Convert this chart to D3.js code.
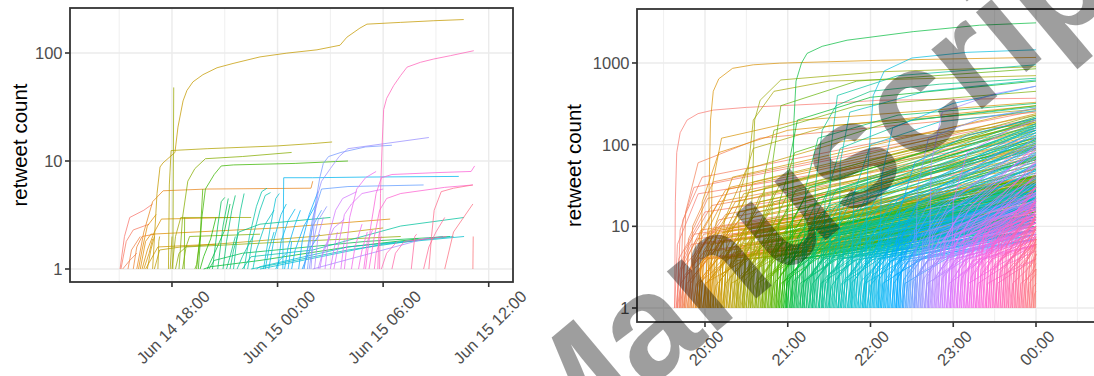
<!DOCTYPE html>
<html lang="en">
<head>
<meta charset="UTF-8">
<title>Retweet cascades</title>
<script src="https://d3js.org/d3.v7.min.js"></script>
<style>
  body { margin: 0; background: #fff; }
  svg { display: block; font-family: "Liberation Sans", Arial, sans-serif; }
  .tick-label { fill: #4d4d4d; font-size: 16.5px; }
  .axis-title { fill: #000; font-size: 20.5px; }
</style>
</head>
<body>
<svg id="chart" width="1094" height="376"></svg>
<script>
// ---- data ----
// left panel: hours after Jun 14 00:00, retweet count
const leftTicks = [18, 24, 30, 36];
const leftMinorTicks = [15, 21, 27, 33];
const leftYTicks = [1, 10, 100];
const leftCascades = [
  [15.05,1, 15.3,2, 15.6,3, 16.4,3.5, 16.9,4],
  [15.1,1, 15.4,1.8, 15.8,2.3, 16.7,2.6],
  [15.2,1, 15.6,1.2, 16.0,1.4],
  [15.5,1, 15.7,1.5, 16.2,2.0],
  [15.8,1, 16.0,1.6, 16.3,2.0, 17,2.1],
  [16.0,1, 16.4,2.2, 16.9,4.2, 17.5,5.3, 20.0,5.5, 25.9,5.6, 26.0,6.5],
  [16.1,1, 16.3,1.5, 16.6,2.5, 17.1,3.2],
  [16.2,1, 16.5,1.8, 16.8,2.1, 24,2.4, 30.4,2.9],
  [16.3,1, 16.6,1.5, 17.0,2.2, 17.4,2.9, 21.5,3.0],
  [16.4,1, 16.7,1.4, 16.9,1.9],
  [16.5,1, 17.2,1.6, 20.5,1.7],
  [16.6,1, 16.8,1.5, 17.0,2.0],
  [16.9,1, 17.15,5, 17.32,8.8, 17.49,9.6, 18.17,12, 18.34,20.6, 18.63,36, 18.85,45, 19.19,54, 19.76,63, 20.56,73, 21.47,80, 23.0,92, 24.53,99.7, 26.24,107, 27.55,118, 27.94,140, 28.68,170, 29.08,185, 30.98,192, 32.88,199, 34.58,204],
  [17.0,1, 17.3,1.5, 18.5,1.6, 26,2.0, 30.0,2.4],
  [17.2,1, 17.25,1.8, 17.3,2],
  [17.8,1, 17.85,6, 17.95,12.5, 20,13, 24,13.8, 26,14.5, 27.1,15],
  [17.9,1, 18.0,2],
  [18.0,1, 18.2,2, 18.5,3, 22.5,3.0],
  [18.05,1, 18.1,48],
  [18.2,1, 18.4,1.4, 18.8,1.6, 25,1.8, 31,2.0],
  [18.4,1, 18.6,3, 18.9,6.5, 19.3,8.5, 19.9,10.5, 22,11, 24.8,12],
  [18.6,1, 18.8,1.6, 19.0,2.0, 23,2.1],
  [18.7,1, 18.72,3],
  [19.3,1, 19.4,1.1, 19.6,2.0],
  [19.4,1, 19.6,2, 19.75,5.5],
  [19.5,1, 19.7,3, 19.9,5.5, 20.4,7.5, 20.8,9, 21.5,9.2, 25,9.5, 28.0,10],
  [19.6,1, 19.8,1.3, 20.2,1.9, 20.5,3],
  [19.8,1, 20.2,1.05, 23,1.2, 28,1.6, 32,1.9],
  [20.0,1, 20.5,1.5, 21.0,2.3, 21.3,4],
  [20.1,1, 20.4,1.2, 22,1.4, 29,1.8, 33.8,2.0],
  [20.3,1, 20.6,2.5, 20.8,4.2, 21.0,4.6],
  [20.6,1, 20.9,2.5, 21.2,4.5],
  [20.9,1, 21.1,1.8, 21.4,3.5, 21.6,4.8],
  [21.1,1, 21.3,1.3, 21.6,2.0],
  [21.3,1, 21.5,1.5, 21.8,2.2, 23,2.6, 27,3.0],
  [21.5,1, 21.7,2, 21.9,3.5, 22.1,5],
  [21.7,1, 22.0,1.3, 22.6,2.0],
  [22.0,1, 22.5,1.3, 26,1.5, 31,2.5, 34.6,3.0],
  [22.1,1, 22.4,2, 22.8,3.8, 23.1,5.2, 23.4,5.6],
  [22.3,1, 22.6,2.0, 23.0,3.5, 23.3,4.8, 23.6,5.1],
  [22.5,1, 28,1.5, 33.4,2],
  [22.6,1, 22.8,1.5, 23.3,2.6, 23.8,3.5],
  [22.8,1, 23.0,1.05, 28,1.6, 34.0,2.0],
  [23.0,1, 30,1.7, 34.6,2.0],
  [23.2,1, 23.6,2.5, 23.9,4.5, 24.1,5],
  [23.3,1, 23.5,1.5, 23.8,2.2],
  [23.5,1, 23.8,1.9, 24.2,3.2, 24.5,4],
  [23.9,1, 24.1,1.2, 24.5,1.4],
  [24.0,1, 24.2,1.8, 24.6,2.8, 25.0,3.6],
  [24.3,1, 24.35,7, 26,7, 29,7.1, 34.3,7.2],
  [24.4,1, 24.6,1.6, 25.0,2.6, 25.3,3.5],
  [24.6,1, 24.8,1.8],
  [24.8,1, 25.0,1.5, 25.5,2.5, 26.2,4],
  [25.2,1, 25.4,1.8, 25.8,3.2, 26.3,5.2],
  [25.4,1, 25.9,1.6, 26.4,2.1],
  [25.5,1, 25.7,1.5, 26,2.5, 26.5,3.5],
  [25.5,1, 26.0,3, 26.5,5.5, 28,5.8, 32.3,6],
  [25.7,1, 25.9,2, 26.2,4.5, 26.4,7, 26.6,9.5, 26.9,11, 27.6,12, 29,13.5, 30.5,14],
  [25.8,1, 26.0,1.7, 26.3,2.8, 26.8,3.8],
  [25.9,1, 26.1,3, 26.3,5, 26.5,6.5, 27.0,8.5, 27.5,11, 28,13, 32.6,16.5],
  [26.0,1, 30,1.5, 32.6,1.95],
  [26.1,1, 26.3,2, 26.6,3],
  [26.3,1, 26.5,1.3, 27.0,2],
  [26.4,1, 26.6,1.5, 27.2,2.4, 27.8,2.9],
  [26.7,1, 26.9,2, 27.3,3.5, 27.7,4.5, 28.5,5.2],
  [27.0,1, 27.2,1.5, 27.4,2.2],
  [27.2,1, 27.5,1.8, 27.8,3.2, 28.2,4, 28.8,5, 30,5.5],
  [27.6,1, 27.8,1.9],
  [27.8,1, 28.1,3, 28.5,5.5, 29,7, 29.6,8],
  [28.2,1, 28.4,1.6, 28.8,2.6],
  [28.6,1, 28.8,1.5, 29.1,2.2],
  [28.9,1, 29.1,1.8, 29.4,2.3],
  [29.0,1, 29.3,2.5, 29.6,5, 29.9,7, 30.5,7.5, 33,7.8, 35.0,8, 35.2,9],
  [29.2,1, 29.5,2, 29.8,3.5, 30.2,4.5, 31,5, 33.5,5.7, 35.1,6],
  [29.5,1, 29.6,1.4, 29.9,2],
  [29.7,1, 29.75,2, 29.8,2.2],
  [29.8,1, 29.85,5, 29.95,15, 30.03,30, 30.2,38, 30.6,50, 31.0,62, 31.36,74, 32.12,82, 32.88,88, 33.83,94.5, 35.15,105],
  [29.9,1, 30.2,1.4, 30.8,1.8],
  [30.5,1, 30.7,1.4, 31.2,1.8, 33.6,2.0],
  [31.6,1, 31.8,2, 31.9,2.1],
  [32.3,1, 32.6,1.6, 33.0,2.2, 33.5,3.0],
  [32.6,1, 32.75,2, 32.9,3.5, 33.3,5.2, 34,5.6, 35.1,6],
  [33.5,1, 34,2.2, 35.1,4],
  [35.1,1, 35.12,2]
];

// right panel: minutes after 19:00, retweet count
const rightTicks = [60, 120, 180, 240, 300];
const rightMinorTicks = [30, 90, 150, 210, 270, 330];
const rightYTicks = [1, 10, 100, 1000];
// larger cascades
const rightCascades = [
  [38,1, 38.5,20, 39.5,80, 42,140, 47,200, 55,240, 66,265, 90,286, 150,320, 187,350, 300,370],
  [38,1, 40,6, 55,25, 300,120],
  [39.5,1, 41,4, 60,15, 300,60],
  [40,1, 42,9, 52,30, 300,210],
  [41.5,1, 43,3, 70,10, 300,45],
  [42,1, 44,12, 58,40, 300,260],
  [43.5,1, 45,5, 65,18, 300,90],
  [44,1, 46,15, 55,60, 100,120, 300,250],
  [45,1, 46.5,2.5, 80,8, 300,30],
  [46,1, 48,7, 62,22, 300,150],
  [47.5,1, 49,3, 70,12, 300,70],
  [49,1, 51,10, 66,35, 300,230],
  [50,1, 51.5,4, 75,14, 300,80],
  [51.5,1, 53,6, 70,20, 300,110],
  [53,1, 55,2, 90,6, 300,25],
  [54,1, 56,8, 75,28, 300,180],
  [55.5,1, 57,3.5, 85,12, 300,55],
  [56,1, 58,20, 70,80, 120,150, 300,300],
  [57,1, 59,5, 80,17, 300,100],
  [58.5,1, 60,2, 100,5, 300,18],
  [60,1, 62,9, 78,30, 300,200],
  [61.5,1, 63,4, 85,15, 300,85],
  [62.5,1, 63,30, 64,200, 66,450, 70,640, 80,860, 95,950, 114,995, 187,1080, 300,1170],
  [63.5,1, 65,6, 82,20, 300,130],
  [64,1, 65,30, 72,120, 130,200, 300,330],
  [65,1, 66.5,3, 95,10, 300,50],
  [66,1, 68,11, 80,40, 300,280],
  [67.5,1, 69,5, 90,16, 300,95],
  [69,1, 71,2.5, 110,7, 300,28],
  [70,1, 72,7, 88,25, 300,170],
  [71.5,1, 73,4, 95,13, 300,75],
  [72,1, 74,12, 90,50, 160,110, 300,180],
  [73,1, 75,3, 100,9, 300,40],
  [74,1, 76,8, 92,26, 300,190],
  [75.5,1, 77,5, 98,15, 300,90],
  [77,1, 79,2, 120,5, 300,16],
  [78,1, 80,10, 95,35, 300,240],
  [79.5,1, 81,4, 105,12, 300,65],
  [81,1, 83,6, 100,20, 300,120],
  [82.5,1, 84,3, 115,9, 300,38],
  [83,1, 85,25, 95,90, 150,170, 300,270],
  [84,1, 86,7, 100,24, 300,160],
  [85.5,1, 87,2.5, 120,7, 300,26],
  [87,1, 89,5, 108,16, 300,100],
  [88,1, 90,30, 95,200, 110,450, 150,600, 300,700],
  [88.5,1, 90,9, 104,30, 300,210],
  [90,1, 92,4, 115,12, 300,70],
  [91.5,1, 93,6, 110,20, 300,140],
  [93,1, 94,20, 96,200, 100,350, 115,620, 187,780, 300,900],
  [93,1, 95,3, 125,8, 300,35],
  [94.5,1, 96,8, 110,26, 300,190],
  [96,1, 98,2, 135,5, 300,18],
  [97,1, 99,5, 120,15, 300,95],
  [98.5,1, 100,10, 114,32, 300,230],
  [100,1, 102,3.5, 130,10, 300,50],
  [101.5,1, 103,6, 122,18, 300,120],
  [102,1, 103,40, 110,150, 170,300, 300,450],
  [103,1, 105,2.5, 140,6, 300,24],
  [104,1, 106,8, 120,25, 300,170],
  [105.5,1, 107,4, 130,12, 300,65],
  [107,1, 109,5, 128,16, 300,105],
  [108,1, 109,60, 115,300, 170,600, 300,850],
  [108.5,1, 110,3, 140,8, 300,36],
  [110,1, 112,9, 126,28, 300,200],
  [111.5,1, 113,4, 138,12, 300,72],
  [112,1, 114,20, 125,80, 190,180, 300,300],
  [113,1, 115,2, 150,5, 300,15],
  [114,1, 116,7, 132,22, 300,150],
  [115.5,1, 117,3, 145,9, 300,42],
  [117,1, 119,6, 136,18, 300,115],
  [118.5,1, 120,2.5, 155,7, 300,22],
  [119,1, 120,50, 127,200, 180,380, 300,600],
  [120,1, 122,10, 136,30, 300,220],
  [121.5,1, 123,4, 148,12, 300,68],
  [123,1, 123.5,20, 124.5,200, 126,600, 130,1000, 134,1310, 145,1600, 163,1900, 211,2420, 259,2900, 300,3100],
  [123,1, 125,5, 145,15, 300,90],
  [124.5,1, 126,3, 155,8, 300,34],
  [126,1, 128,7, 142,22, 300,160],
  [127.5,1, 129,2, 165,5, 300,14],
  [129,1, 131,6, 150,18, 300,110],
  [130.5,1, 132,3.5, 160,10, 300,52],
  [131,1, 133,30, 142,120, 200,230, 300,320],
  [132,1, 134,8, 148,25, 300,180],
  [133.5,1, 135,4, 160,12, 300,66],
  [135,1, 137,2.5, 170,6, 300,25],
  [136,1, 138,6, 155,18, 300,125],
  [137.5,1, 139,3, 165,9, 300,40],
  [138,1, 140,30, 145,150, 155,300, 180,450, 230,550, 300,650],
  [139,1, 141,9, 155,28, 300,210],
  [140.5,1, 142,4, 168,12, 300,70],
  [142,1, 144,2, 180,5, 300,16],
  [143,1, 145,7, 160,22, 300,150],
  [144.5,1, 146,3.5, 172,10, 300,48],
  [145,1, 147,20, 158,90, 210,200, 300,290],
  [146,1, 148,5, 168,15, 300,95],
  [147.5,1, 149,2.5, 182,6, 300,22],
  [149,1, 151,8, 165,25, 300,170],
  [150,1, 151,80, 156,400, 200,700, 300,950],
  [150.5,1, 152,4, 178,12, 300,62],
  [152,1, 154,6, 172,18, 300,115],
  [153.5,1, 155,3, 185,8, 300,33],
  [155,1, 157,10, 170,30, 300,200],
  [156.5,1, 158,4, 182,11, 300,58],
  [157,1, 158,60, 165,250, 220,450, 300,620],
  [158,1, 160,2, 195,5, 300,13],
  [159,1, 161,7, 176,21, 300,140],
  [160.5,1, 162,3, 190,9, 300,38],
  [162,1, 164,5, 182,15, 300,88],
  [163.5,1, 165,2.5, 198,6, 300,20],
  [165,1, 167,8, 180,24, 300,160],
  [166,1, 168,25, 180,100, 230,190, 300,260],
  [166.5,1, 168,4, 192,11, 300,56],
  [168,1, 170,6, 186,17, 300,105],
  [169.5,1, 171,3, 200,8, 300,30],
  [171,1, 173,9, 186,26, 300,180],
  [172.5,1, 174,3.5, 198,10, 300,45],
  [174,1, 176,2, 210,4.5, 300,12],
  [175,1, 177,6, 194,17, 300,100],
  [176,1, 178,50, 182,400, 190,800, 210,1150, 250,1350, 300,1450],
  [176.5,1, 178,4, 202,11, 300,55],
  [178,1, 180,7, 195,20, 300,130],
  [179.5,1, 181,2.5, 212,6, 300,19],
  [181,1, 183,5, 200,14, 300,80],
  [182.5,1, 184,3, 210,8, 300,32],
  [184,1, 186,8, 200,22, 300,150],
  [185.5,1, 187,4, 210,10, 300,48],
  [186,1, 188,40, 196,160, 240,320, 300,520],
  [187,1, 189,2, 222,4.5, 300,11],
  [188,1, 190,6, 206,16, 300,95],
  [189.5,1, 191,3, 215,8, 300,30],
  [191,1, 193,9, 206,25, 300,170],
  [192.5,1, 194,4, 218,10, 300,50],
  [194,1, 196,5, 212,14, 300,75],
  [195.5,1, 197,2.5, 228,5, 300,15],
  [197,1, 199,7, 214,19, 300,120],
  [198.5,1, 200,3, 224,8, 300,28],
  [199,1, 201,15, 212,60, 250,130, 300,210],
  [200,1, 202,4, 220,11, 300,58],
  [201.5,1, 203,8, 216,22, 300,140],
  [203,1, 205,2, 235,4, 300,9],
  [204,1, 206,5, 222,14, 300,78],
  [205.5,1, 207,3, 230,7, 300,26],
  [207,1, 209,6, 224,16, 300,95],
  [208.5,1, 210,3.5, 232,9, 300,38],
  [210,1, 212,9, 225,24, 300,160],
  [211.5,1, 213,2.5, 242,5, 300,13],
  [212,1, 214,30, 222,120, 260,210, 300,280],
  [213,1, 215,5, 230,13, 300,68],
  [214.5,1, 216,3, 238,7, 300,24],
  [216,1, 218,7, 232,18, 300,110],
  [217.5,1, 219,4, 240,9, 300,40],
  [219,1, 221,2, 250,4, 300,8],
  [220,1, 222,6, 236,15, 300,85],
  [221.5,1, 223,3, 245,7, 300,25],
  [222,1, 224,60, 232,250, 270,420, 300,520],
  [223,1, 225,8, 238,20, 300,125],
  [224.5,1, 226,4, 246,9, 300,36],
  [226,1, 228,5, 242,12, 300,60],
  [227.5,1, 229,2.5, 255,5, 300,11],
  [229,1, 231,6, 245,14, 300,75],
  [230.5,1, 232,3, 252,7, 300,22],
  [232,1, 234,7, 247,17, 300,95],
  [233.5,1, 235,4, 255,9, 300,34],
  [235,1, 237,2, 262,4, 300,7],
  [236,1, 238,5, 252,12, 300,55],
  [237.5,1, 239,3, 258,7, 300,20],
  [238,1, 240,20, 250,80, 280,150, 300,200],
  [239,1, 241,8, 253,18, 300,100],
  [240.5,1, 242,4, 260,9, 300,30],
  [242,1, 244,2.5, 268,5, 300,10],
  [243,1, 245,6, 258,13, 300,60],
  [244.5,1, 246,3, 265,7, 300,18],
  [246,1, 248,9, 260,20, 300,90],
  [247.5,1, 249,4, 267,8, 300,26],
  [249,1, 251,2, 275,3.5, 300,6],
  [250,1, 252,5, 265,11, 300,42],
  [251.5,1, 253,3, 270,6, 300,15],
  [253,1, 255,7, 267,15, 300,65],
  [254.5,1, 256,3.5, 273,7, 300,20],
  [256,1, 258,2, 280,3.5, 300,5],
  [257,1, 259,6, 271,12, 300,45],
  [258.5,1, 260,3, 276,6, 300,13],
  [260,1, 262,8, 273,16, 300,55],
  [261.5,1, 263,4, 278,7, 300,17],
  [263,1, 265,2, 284,3, 300,4],
  [264,1, 266,5, 278,10, 300,30],
  [265.5,1, 267,3, 282,5, 300,10],
  [267,1, 269,6, 280,11, 300,32],
  [268.5,1, 270,3.5, 285,6, 300,12],
  [270,1, 272,2, 288,3, 300,4],
  [271,1, 273,7, 284,12, 300,30],
  [272.5,1, 274,3, 288,5, 300,9],
  [274,1, 276,5, 286,9, 300,20],
  [275.5,1, 277,2.5, 290,4, 300,6],
  [277,1, 279,6, 289,10, 300,22],
  [278.5,1, 280,3, 292,5, 300,8],
  [280,1, 282,4, 291,7, 300,13],
  [281.5,1, 283,2, 294,3, 300,4],
  [283,1, 285,5, 293,8, 300,14],
  [284.5,1, 286,3, 295,4.5, 300,7],
  [286,1, 288,4, 295,6, 300,10],
  [287.5,1, 289,2, 296,2.5, 300,3],
  [289,1, 291,3.5, 297,5, 300,7],
  [290.5,1, 292,2, 298,3, 300,3.5],
  [292,1, 293.5,3, 298,4, 300,5],
  [293.5,1, 295,2, 299,2.5, 300,2.6],
  [295,1, 296.5,2.5, 300,3],
  [296.5,1, 298,1.8, 300,2],
  [298,1, 299,1.5, 300,1.6],
  [299.5,1, 299.8,7]
];
// the many small cascades that make up the dense band near the bottom
const rightBandCascades = [
  [39,1,42,3,50,6,300,22], [40,1,42.5,2,55,4,300,14], [41,1,44,4,52,8,300,35], [42,1,45,2.5,60,5,300,18],
  [43,1,45,3.5,54,7,300,28], [44,1,47,2,62,4,300,12], [45,1,48,4.5,57,9,300,40], [46,1,49,3,57,6,300,21],
  [47,1,49.5,2,62,4,300,15], [48,1,51,4,59,8,300,33], [49,1,52,2.5,67,5,300,19], [50,1,52,3.5,61,7,300,27],
  [51,1,54,2,69,4,300,11], [52,1,55,4.5,64,9,300,38], [53,1,56,3,64,6,300,23], [54,1,56.5,2,69,4,300,13],
  [55,1,58,4,66,8,300,36], [56,1,59,2.5,74,5,300,17], [57,1,59,3.5,68,7,300,29], [58,1,61,2,76,4,300,10],
  [59,1,62,4.5,71,9,300,41],
  [60,1,63,3.2,71,6.5,300,24], [61,1,63,2.2,76,4.2,300,13], [62,1,65,4.2,73,8.5,300,33], [63,1,66,2.4,81,4.8,300,17],
  [64,1,66,3.6,75,7.2,300,29], [65,1,68,1.9,83,3.8,300,11], [66,1,69,4.8,78,9.5,300,42], [67,1,70,2.8,78,5.5,300,20],
  [68,1,70.5,2.1,83,4.1,300,15], [69,1,72,3.9,80,7.8,300,31], [70,1,73,2.6,88,5.2,300,19], [71,1,73,3.3,82,6.8,300,26],
  [72,1,75,2.0,90,4.0,300,12], [73,1,76,4.4,85,8.8,300,37], [74,1,77,3.0,85,6.0,300,21], [75,1,77.5,2.3,90,4.4,300,14],
  [76,1,79,4.1,87,8.0,300,34], [77,1,80,2.5,95,5.0,300,18], [78,1,80,3.4,89,6.9,300,27], [79,1,82,2.1,97,4.1,300,11],
  [80,1,83,4.6,92,9.2,300,39], [81,1,84,2.9,92,5.8,300,22], [82,1,84.5,2.0,97,4.0,300,13], [83,1,86,4.0,94,7.9,300,32],
  [84,1,87,2.4,102,4.9,300,16], [85,1,87,3.7,96,7.3,300,29], [86,1,89,2.2,104,4.2,300,12], [87,1,90,4.7,99,9.1,300,41],
  [88,1,91,3.1,99,6.2,300,23], [89,1,91.5,2.1,104,4.0,300,14], [90,1,93,4.3,101,8.3,300,35], [91,1,94,2.6,109,5.1,300,18],
  [92,1,94,3.5,103,7.0,300,27], [93,1,96,1.9,111,3.9,300,11], [94,1,97,4.5,106,8.9,300,38], [95,1,98,2.8,106,5.6,300,21],
  [96,1,98.5,2.2,111,4.3,300,15], [97,1,100,3.8,108,7.6,300,30], [98,1,101,2.5,116,5.0,300,17], [99,1,101,3.4,110,6.7,300,26],
  [100,1,103,2.0,118,4.1,300,12], [101,1,104,4.6,113,9.0,300,40], [102,1,105,3.0,113,6.1,300,22], [103,1,105.5,2.1,118,4.2,300,13],
  [104,1,107,4.1,115,8.1,300,33], [105,1,108,2.4,123,4.8,300,17], [106,1,108,3.6,117,7.1,300,28], [107,1,110,2.0,125,3.9,300,11],
  [108,1,111,4.4,120,8.7,300,37], [109,1,112,2.9,120,5.7,300,21], [110,1,112.5,2.2,125,4.3,300,14], [111,1,114,4.0,122,7.9,300,31],
  [112,1,115,2.6,130,5.1,300,18], [113,1,115,3.3,124,6.6,300,26], [114,1,117,2.1,132,4.0,300,12], [115,1,118,4.7,127,9.3,300,41],
  [116,1,119,3.1,127,6.2,300,23], [117,1,119.5,2.0,132,4.1,300,13], [118,1,121,4.2,129,8.4,300,34], [119,1,122,2.5,137,5.0,300,17],
  [120,1,122,3.5,131,7.0,300,22], [121,1,124,2.1,139,4.0,300,10], [122,1,125,4.5,134,8.8,300,31], [123,1,126,2.9,134,5.8,300,17],
  [124,1,126.5,2.2,139,4.3,300,12], [125,1,128,3.9,136,7.8,300,26], [126,1,129,2.5,144,5.0,300,14], [127,1,129,3.4,138,6.8,300,21],
  [128,1,131,2.0,146,4.0,300,9], [129,1,132,4.6,141,9.0,300,32], [130,1,133,3.0,141,6.0,300,18], [131,1,133.5,2.1,146,4.2,300,11],
  [132,1,135,4.1,143,8.0,300,27], [133,1,136,2.4,151,4.8,300,14], [134,1,136,3.6,145,7.2,300,22], [135,1,138,2.0,153,3.9,300,9],
  [136,1,139,4.4,148,8.6,300,30], [137,1,140,2.8,148,5.6,300,17], [138,1,140.5,2.2,153,4.3,300,12], [139,1,142,3.8,150,7.6,300,25],
  [140,1,143,2.6,158,5.1,300,14], [141,1,143,3.3,152,6.6,300,21], [142,1,145,2.1,160,4.0,300,9], [143,1,146,4.7,155,9.2,300,33],
  [144,1,147,3.1,155,6.1,300,18], [145,1,147.5,2.0,160,4.1,300,11], [146,1,149,4.2,157,8.3,300,27], [147,1,150,2.5,165,5.0,300,14],
  [148,1,150,3.5,159,7.0,300,22], [149,1,152,1.9,167,3.8,300,9], [150,1,153,4.5,162,8.9,300,30], [151,1,154,2.9,162,5.8,300,17],
  [152,1,154.5,2.2,167,4.3,300,12], [153,1,156,3.9,164,7.8,300,25], [154,1,157,2.5,172,5.0,300,14], [155,1,157,3.4,166,6.8,300,21],
  [156,1,159,2.0,174,4.0,300,9], [157,1,160,4.6,169,9.0,300,32], [158,1,161,3.0,169,6.0,300,18], [159,1,161.5,2.1,174,4.2,300,11],
  [160,1,163,4.1,171,8.0,300,27], [161,1,164,2.4,179,4.8,300,14], [162,1,164,3.6,173,7.2,300,22], [163,1,166,2.0,181,3.9,300,9],
  [164,1,167,4.4,176,8.6,300,30], [165,1,168,2.8,176,5.6,300,17], [166,1,168.5,2.2,181,4.3,300,12], [167,1,170,3.8,178,7.6,300,25],
  [168,1,171,2.6,186,5.1,300,14], [169,1,171,3.3,180,6.6,300,21], [170,1,173,2.1,188,4.0,300,9], [171,1,174,4.7,183,9.2,300,33],
  [172,1,175,3.1,183,6.1,300,18], [173,1,175.5,2.0,188,4.1,300,11], [174,1,177,4.2,185,8.3,300,27], [175,1,178,2.5,193,5.0,300,14],
  [176,1,178,3.5,187,7.0,300,22], [177,1,180,1.9,195,3.8,300,9], [178,1,181,4.5,190,8.9,300,30], [179,1,182,2.9,190,5.8,300,17],
  [180,1,182,3.5,188,6,300,16], [181,1,183,2.5,192,4.5,300,10], [182,1,184,4.5,190,8,300,22], [183,1,185,3,193,5.5,300,13],
  [184,1,186,2.2,196,4,300,8], [185,1,187,4,193,7,300,19], [186,1,188,2.8,197,5,300,12], [187,1,189,3.6,195,6.5,300,17],
  [188,1,190,2.1,200,3.8,300,7], [189,1,191,4.8,197,8.5,300,24], [190,1,192,3.2,200,5.8,300,14], [191,1,193,2.3,203,4.2,300,9],
  [192,1,194,4.2,200,7.5,300,20], [193,1,195,2.6,204,4.8,300,11], [194,1,196,3.7,202,6.6,300,18], [195,1,197,2.0,207,3.7,300,7],
  [196,1,198,4.6,204,8.2,300,23], [197,1,199,3.0,207,5.4,300,13], [198,1,200,2.4,210,4.3,300,9], [199,1,201,4.1,207,7.3,300,19],
  [200,1,202,2.7,211,4.9,300,11], [201,1,203,3.5,209,6.3,300,16], [202,1,204,2.2,214,3.9,300,8], [203,1,205,5.0,211,8.8,300,25],
  [204,1,206,3.3,214,5.9,300,14], [205,1,207,2.3,217,4.1,300,9], [206,1,208,4.3,214,7.6,300,20], [207,1,209,2.8,218,5.0,300,12],
  [208,1,210,3.8,216,6.8,300,18], [209,1,211,2.1,221,3.8,300,7], [210,1,212,4.7,218,8.4,300,23], [211,1,213,3.1,221,5.6,300,13],
  [212,1,214,2.5,224,4.4,300,9], [213,1,215,4.0,221,7.1,300,18], [214,1,216,2.7,225,4.8,300,11], [215,1,217,3.6,223,6.4,300,16],
  [216,1,218,2.2,228,3.9,300,8], [217,1,219,5.2,225,9.0,300,26], [218,1,220,3.4,228,6.0,300,14], [219,1,221,2.4,231,4.2,300,9],
  [220,1,222,4.4,228,7.8,300,21], [221,1,223,2.9,232,5.1,300,12], [222,1,224,3.9,230,6.9,300,18], [223,1,225,2.1,235,3.8,300,7],
  [224,1,226,4.9,232,8.6,300,24], [225,1,227,3.2,235,5.7,300,13], [226,1,228,2.5,238,4.4,300,9], [227,1,229,4.2,235,7.4,300,19],
  [228,1,230,2.8,239,4.9,300,11], [229,1,231,3.7,237,6.5,300,16], [230,1,232,2.3,242,4.0,300,8], [231,1,233,5.4,239,9.2,300,26],
  [232,1,234,3.5,242,6.1,300,14], [233,1,235,2.6,245,4.5,300,9], [234,1,236,4.6,242,8.0,300,21], [235,1,237,3.0,246,5.2,300,12],
  [236,1,238,4.0,244,7.0,300,18], [237,1,239,2.2,249,3.9,300,7], [238,1,240,5.0,246,8.8,300,24], [239,1,241,3.3,249,5.8,300,13],
  [240,1,242,2.6,250,4.3,300,8], [241,1,243,4.4,249,7.6,300,17], [242,1,244,3.0,252,5.0,300,10], [243,1,245,3.8,251,6.5,300,14],
  [244,1,246,2.3,254,3.8,300,6], [245,1,247,5.2,253,8.8,300,20], [246,1,248,3.4,256,5.7,300,11], [247,1,249,2.6,257,4.3,300,7.5],
  [248,1,250,4.6,256,7.8,300,16], [249,1,251,3.1,259,5.1,300,10], [250,1,252,4.1,258,6.9,300,14], [251,1,253,2.4,261,3.9,300,6],
  [252,1,254,5.5,260,9.0,300,20], [253,1,255,3.6,263,5.9,300,11], [254,1,256,2.7,264,4.4,300,7.5], [255,1,257,4.8,263,8.0,300,16],
  [256,1,258,3.2,266,5.2,300,10], [257,1,259,4.2,265,7.0,300,13], [258,1,260,2.5,268,4.0,300,6], [259,1,261,5.8,267,9.4,300,19],
  [260,1,262,3.7,270,6.0,300,11], [261,1,263,2.8,271,4.5,300,7], [262,1,264,5.0,270,8.2,300,15], [263,1,265,3.3,273,5.3,300,9],
  [264,1,266,4.3,272,7.0,300,12], [265,1,267,2.6,275,4.1,300,6], [266,1,268,6.0,274,9.6,300,18], [267,1,269,3.8,277,6.1,300,10],
  [268,1,270,2.9,278,4.6,300,7], [269,1,271,5.2,277,8.3,300,14], [270,1,272,3.4,280,5.4,300,9], [271,1,273,4.5,279,7.1,300,12],
  [272,1,274,2.7,282,4.2,300,6], [273,1,275,6.2,281,9.8,300,17], [274,1,276,3.9,284,6.2,300,10], [275,1,277,3.0,285,4.7,300,7],
  [276,1,278,5.4,284,8.4,300,13], [277,1,279,3.5,287,5.5,300,8.5], [278,1,280,4.6,286,7.2,300,11], [279,1,281,2.8,289,4.3,300,6],
  [280,1,282,6.4,288,9.9,300,15], [281,1,283,4.0,291,6.3,300,9], [282,1,284,3.1,292,4.8,300,6.5], [283,1,285,5.6,291,8.6,300,12],
  [284,1,286,3.6,294,5.6,300,8], [285,1,287,4.8,293,7.3,300,10], [286,1,288,2.9,296,4.4,300,5.5], [287,1,289,6.6,295,10,300,13],
  [288,1,290,4.1,298,6.4,300,7.5], [289,1,291,3.2,297,4.9,300,6], [290,1,292,5.8,298,8.8,300,10], [291,1,293,3.7,300,5.7],
  [292,1,294,4.9,300,7.4], [293,1,295,3.0,300,4.5], [294,1,296,6.8,300,9.5], [295,1,297,4.2,300,6.0],
  [296,1,298,3.3,300,4.6], [297,1,299,5.9,300,7.0], [298,1,299,3.8,300,4.6], [299,1,300,3.0]
];

const watermark = "Manuscript";

// ---- helpers ----
const svg = d3.select("#chart");

// ggplot-like hue: hcl(h, c = 100, l = 65) in polar LUV
function hueColor(h) {
  const L = 65, C = 100, rad = h * Math.PI / 180;
  const u = C * Math.cos(rad), v = C * Math.sin(rad);
  const Xn = 95.047, Yn = 100, Zn = 108.883;
  const den = Xn + 15 * Yn + 3 * Zn;
  const un = 4 * Xn / den, vn = 9 * Yn / den;
  const Y = Yn * Math.pow((L + 16) / 116, 3);
  const up = u / (13 * L) + un, vp = v / (13 * L) + vn;
  const X = Y * 9 * up / (4 * vp), Z = Y * (12 - 3 * up - 20 * vp) / (4 * vp);
  const x = X / 100, y = Y / 100, z = Z / 100;
  const r = 3.2406 * x - 1.5372 * y - 0.4986 * z;
  const g = -0.9689 * x + 1.8758 * y + 0.0415 * z;
  const b = 0.0557 * x - 0.2040 * y + 1.0570 * z;
  const gam = c => c <= 0.0031308 ? 12.92 * c : 1.055 * Math.pow(c, 1 / 2.4) - 0.055;
  const cl = c => Math.round(Math.max(0, Math.min(1, gam(c))) * 255);
  return d3.rgb(cl(r), cl(g), cl(b)).formatHex();
}

function toPairs(flat) {
  const out = [];
  for (let i = 0; i < flat.length; i += 2) out.push([flat[i], flat[i + 1]]);
  return out;
}

function drawPanel(p) {
  const x = d3.scaleTime().domain(p.xDomain.map(p.toDate)).range([p.left, p.right]);
  const y = d3.scaleLog().domain(p.yDomain).range([p.bottom, p.top]);
  const g = svg.append("g");

  g.append("clipPath").attr("id", p.id + "-clip")
    .append("rect")
    .attr("x", p.left).attr("y", p.top)
    .attr("width", p.right - p.left).attr("height", p.bottom - p.top);

  // grid
  const grid = g.append("g").attr("clip-path", `url(#${p.id}-clip)`);
  grid.selectAll(".minor").data(p.minorTicks).enter().append("line")
    .attr("x1", d => x(p.toDate(d))).attr("x2", d => x(p.toDate(d)))
    .attr("y1", p.top).attr("y2", p.bottom)
    .attr("stroke", "#ebebeb").attr("stroke-width", 0.8);
  grid.selectAll(".vmajor").data(p.ticks).enter().append("line")
    .attr("x1", d => x(p.toDate(d))).attr("x2", d => x(p.toDate(d)))
    .attr("y1", p.top).attr("y2", p.bottom)
    .attr("stroke", "#ebebeb").attr("stroke-width", 1.4);
  grid.selectAll(".hmajor").data(p.yTicks).enter().append("line")
    .attr("x1", p.left).attr("x2", p.right)
    .attr("y1", d => y(d)).attr("y2", d => y(d))
    .attr("stroke", "#ebebeb").attr("stroke-width", 1.4);

  // cascades, coloured by order of first retweet
  const sorted = d3.sort(p.cascades, c => c[0]);
  const n = sorted.length;
  const line = d3.line()
    .x(d => x(p.toDate(d[0])))
    .y(d => y(d[1]));
  g.append("g").attr("clip-path", `url(#${p.id}-clip)`)
    .selectAll("path").data(sorted).enter().append("path")
    .attr("d", d => line(toPairs(d)))
    .attr("fill", "none")
    .attr("stroke", (d, i) => hueColor(15 + 360 * i / n))
    .attr("stroke-width", p.lineWidth);

  // border
  g.append("rect")
    .attr("x", p.left).attr("y", p.top)
    .attr("width", p.right - p.left).attr("height", p.bottom - p.top)
    .attr("fill", "none").attr("stroke", "#333").attr("stroke-width", 1.8);

  // y ticks + labels
  g.selectAll(".ytick").data(p.yTicks).enter().append("line")
    .attr("x1", p.left - 5).attr("x2", p.left)
    .attr("y1", d => y(d)).attr("y2", d => y(d))
    .attr("stroke", "#333").attr("stroke-width", 1.6);
  g.selectAll(".ylab").data(p.yTicks).enter().append("text")
    .attr("class", "tick-label")
    .attr("x", p.left - 7.5).attr("y", d => y(d))
    .attr("text-anchor", "end").attr("dominant-baseline", "central")
    .text(d => d);

  // x ticks + rotated labels
  g.selectAll(".xtick").data(p.ticks).enter().append("line")
    .attr("x1", d => x(p.toDate(d))).attr("x2", d => x(p.toDate(d)))
    .attr("y1", p.bottom).attr("y2", p.bottom + 5)
    .attr("stroke", "#333").attr("stroke-width", 1.6);
  g.selectAll(".xlab").data(p.ticks).enter().append("text")
    .attr("class", "tick-label")
    .attr("text-anchor", "middle").attr("dominant-baseline", "central")
    .text(d => p.fmt(p.toDate(d)))
    .attr("transform", function(d) {
      const len = this.getComputedTextLength();
      const half = (len + 12) * Math.SQRT1_2 / 2;
      return `translate(${x(p.toDate(d)) + 1},${p.bottom + 7 + half}) rotate(-45)`;
    });

  // y title
  g.append("text").attr("class", "axis-title")
    .attr("transform", `translate(${p.titleX},${(p.top + p.bottom) / 2}) rotate(-90)`)
    .attr("text-anchor", "middle")
    .text("retweet count");
}

const leftBase = Date.UTC(2018, 5, 14, 0, 0);
const rightBase = Date.UTC(2018, 5, 14, 19, 0);

drawPanel({
  id: "left", left: 70, right: 513, top: 8, bottom: 282,
  xDomain: [12.205, 37.38], yDomain: [0.758, 261],
  toDate: h => new Date(leftBase + h * 3600e3),
  fmt: d3.utcFormat("%b %d %H:%M"),
  ticks: leftTicks, minorTicks: leftMinorTicks, yTicks: leftYTicks,
  cascades: leftCascades, lineWidth: 0.75, titleX: 27
});

drawPanel({
  id: "right", left: 637, right: 1100, top: 9, bottom: 322,
  xDomain: [10.7, 346.4], yDomain: [0.674, 4581],
  toDate: m => new Date(rightBase + m * 60e3),
  fmt: d3.utcFormat("%H:%M"),
  ticks: rightTicks, minorTicks: rightMinorTicks, yTicks: rightYTicks,
  cascades: rightCascades.concat(rightBandCascades), lineWidth: 0.7, titleX: 581
});

// watermark: only shows over the right-hand figure (the left figure sits on top of it)
svg.append("clipPath").attr("id", "wm-clip")
  .append("rect").attr("x", 547).attr("y", 0).attr("width", 547).attr("height", 376);
svg.append("g").attr("clip-path", "url(#wm-clip)")
  .append("text")
  .attr("transform", "translate(552,470) rotate(-40)")
  .style("font-size", "148px").style("font-weight", "bold")
  .attr("fill", "#000").attr("fill-opacity", 0.38)
  .text(watermark);
</script>
</body>
</html>
